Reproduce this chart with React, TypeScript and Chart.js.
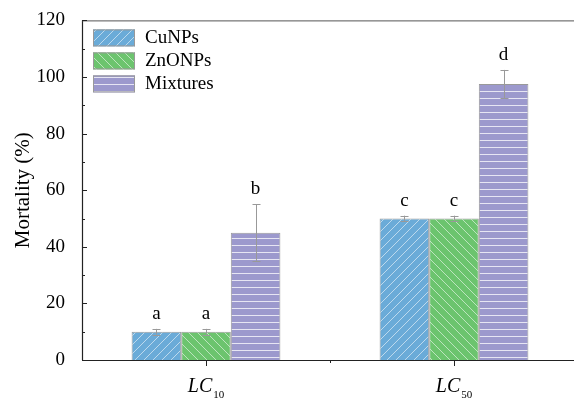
import { useEffect, useRef } from 'react';
import { Chart, registerables } from 'chart.js';

Chart.register(...registerables);

const categoryMain = ['LC', 'LC'];
const categorySub = ['10', '50'];
const categories = ['LC10', 'LC50'];
const seriesNames = ['CuNPs', 'ZnONPs', 'Mixtures'];
const cuValues = [10, 50];
const znValues = [10, 50];
const mixValues = [45, 97.5];
const cuErrors = [1, 1];
const znErrors = [1, 1];
const mixErrors = [10, 5];
const cuLetters = ['a', 'c'];
const znLetters = ['a', 'c'];
const mixLetters = ['b', 'd'];
const yMin = 0;
const yMax = 120;
const yStep = 20;

const SERIF = '"Liberation Serif", "Times New Roman", serif';

function makePattern(kind: string, bg: string, line: string): CanvasPattern | string {
  const size = kind === 'h' ? 7 : 9;
  const c = document.createElement('canvas');
  c.width = kind === 'h' ? 16 : size;
  c.height = size;
  const g = c.getContext('2d');
  if (!g) return bg;
  g.fillStyle = bg;
  g.fillRect(0, 0, c.width, c.height);
  g.strokeStyle = line;
  g.lineWidth = 1;
  g.beginPath();
  if (kind === 'h') {
    g.moveTo(0, 0.5);
    g.lineTo(c.width, 0.5);
  } else if (kind === '/') {
    g.moveTo(-1, size + 1);
    g.lineTo(size + 1, -1);
    g.moveTo(-1, 1);
    g.lineTo(1, -1);
    g.moveTo(size - 1, size + 1);
    g.lineTo(size + 1, size - 1);
  } else {
    g.moveTo(-1, -1);
    g.lineTo(size + 1, size + 1);
    g.moveTo(size - 1, -1);
    g.lineTo(size + 1, 1);
    g.moveTo(-1, size - 1);
    g.lineTo(1, size + 1);
  }
  g.stroke();
  const p = g.createPattern(c, 'repeat');
  return p || bg;
}

export default function App() {
  const ref = useRef<HTMLCanvasElement | null>(null);

  useEffect(() => {
    document.body.style.margin = '0';
    document.body.style.overflow = 'hidden';
    const canvas = ref.current;
    if (!canvas) return;

    const fills = [
      makePattern('/', '#6aabd8', 'rgba(255,255,255,0.55)'),
      makePattern('\\', '#6cc46e', 'rgba(255,255,255,0.55)'),
      makePattern('h', '#9c99cd', 'rgba(255,255,255,0.75)'),
    ];
    const values = [cuValues, znValues, mixValues];
    const errors = [cuErrors, znErrors, mixErrors];
    const letters = [cuLetters, znLetters, mixLetters];

    const decor = {
      id: 'decor',
      afterDraw(chart: any) {
        const ctx = chart.ctx;
        const area = chart.chartArea;
        const ys = chart.scales.y;
        const xs = chart.scales.x;
        ctx.save();

        // error bars and letters
        for (let d = 0; d < values.length; d++) {
          const meta = chart.getDatasetMeta(d);
          meta.data.forEach((el: any, i: number) => {
            const v = values[d][i];
            const e = errors[d][i];
            const yt = ys.getPixelForValue(v + e);
            const yb = ys.getPixelForValue(v - e);
            const x = Math.round(el.x) + 0.5;
            ctx.strokeStyle = '#999';
            ctx.lineWidth = 1;
            ctx.beginPath();
            ctx.moveTo(x, yt);
            ctx.lineTo(x, yb);
            ctx.moveTo(x - 4, Math.round(yt) + 0.5);
            ctx.lineTo(x + 4, Math.round(yt) + 0.5);
            ctx.moveTo(x - 4, Math.round(yb) + 0.5);
            ctx.lineTo(x + 4, Math.round(yb) + 0.5);
            ctx.stroke();
            ctx.fillStyle = '#000';
            ctx.font = '19px ' + SERIF;
            ctx.textAlign = 'center';
            ctx.textBaseline = 'alphabetic';
            ctx.fillText(letters[d][i], el.x, yt - 10);
          });
        }

        // frame lines
        ctx.strokeStyle = '#222';
        ctx.lineWidth = 1.2;
        ctx.beginPath();
        ctx.moveTo(area.left + 0.5, area.top);
        ctx.lineTo(area.left + 0.5, area.bottom);
        ctx.moveTo(area.left, area.bottom + 0.5);
        ctx.lineTo(area.right, area.bottom + 0.5);
        ctx.stroke();
        ctx.strokeStyle = '#555';
        ctx.lineWidth = 1;
        ctx.beginPath();
        ctx.moveTo(area.left, area.top + 0.5);
        ctx.lineTo(area.right, area.top + 0.5);
        ctx.stroke();

        // y ticks (inward)
        ctx.strokeStyle = '#222';
        ctx.lineWidth = 1;
        ctx.beginPath();
        for (let v = yMin; v <= yMax; v += yStep / 2) {
          const y = Math.round(ys.getPixelForValue(v)) + 0.5;
          const len = (v % yStep === 0) ? 5 : 3;
          ctx.moveTo(area.left, y);
          ctx.lineTo(area.left + len, y);
        }
        ctx.stroke();

        // x ticks (outward) and labels
        ctx.beginPath();
        for (let i = 0; i < categories.length; i++) {
          const x = Math.round(xs.getPixelForValue(i)) + 0.5;
          ctx.moveTo(x, area.bottom);
          ctx.lineTo(x, area.bottom + 6);
          if (i < categories.length - 1) {
            const xm = Math.round((xs.getPixelForValue(i) + xs.getPixelForValue(i + 1)) / 2) + 0.5;
            ctx.moveTo(xm, area.bottom);
            ctx.lineTo(xm, area.bottom + 3);
          }
        }
        ctx.stroke();

        ctx.fillStyle = '#000';
        ctx.textBaseline = 'alphabetic';
        for (let i = 0; i < categories.length; i++) {
          const cx = xs.getPixelForValue(i);
          ctx.font = 'italic 20px ' + SERIF;
          const w1 = ctx.measureText(categoryMain[i]).width;
          ctx.font = '11px ' + SERIF;
          const w2 = ctx.measureText(categorySub[i]).width;
          const x0 = cx - (w1 + w2 + 1) / 2;
          ctx.font = 'italic 20px ' + SERIF;
          ctx.textAlign = 'left';
          ctx.fillText(categoryMain[i], x0, area.bottom + 32);
          ctx.font = '11px ' + SERIF;
          ctx.fillText(categorySub[i], x0 + w1 + 1, area.bottom + 38);
        }

        // legend
        const lx = area.left + 11;
        for (let d = 0; d < seriesNames.length; d++) {
          const ty = area.top + 9 + d * 23;
          ctx.fillStyle = fills[d] as any;
          ctx.fillRect(lx, ty, 42, 17);
          ctx.strokeStyle = '#999';
          ctx.lineWidth = 1;
          ctx.strokeRect(lx + 0.5, ty + 0.5, 41, 16);
          ctx.fillStyle = '#000';
          ctx.font = '19px ' + SERIF;
          ctx.textAlign = 'left';
          ctx.textBaseline = 'middle';
          ctx.fillText(seriesNames[d], lx + 52, ty + 9);
        }
        ctx.restore();
      },
    };

    const chart = new Chart(canvas, {
      type: 'bar',
      data: {
        labels: categories,
        datasets: seriesNames.map((name, d) => ({
          label: name,
          data: values[d],
          backgroundColor: fills[d] as any,
          borderColor: '#999',
          borderWidth: 1,
          categoryPercentage: 0.6,
          barPercentage: 1.0,
        })),
      },
      options: {
        responsive: false,
        animation: false,
        devicePixelRatio: 1,
        layout: { padding: { top: 20, right: 2, left: 0, bottom: 0 } },
        plugins: {
          legend: { display: false },
          tooltip: { enabled: false },
        },
        scales: {
          x: {
            offset: true,
            grid: { display: false },
            border: { display: false },
            ticks: { display: false },
            afterFit: (s: any) => { s.height = 39; },
          },
          y: {
            min: yMin,
            max: yMax,
            grid: { display: false },
            border: { display: false },
            ticks: {
              stepSize: yStep,
              padding: 9,
              color: '#000',
              font: { family: SERIF, size: 19 },
            },
            title: {
              display: true,
              text: 'Mortality (%)',
              color: '#000',
              font: { family: SERIF, size: 21 },
              padding: { top: 11, bottom: 0 },
            },
            afterFit: (s: any) => { s.width = 82; },
          },
        },
      },
      plugins: [decor],
    });

    return () => chart.destroy();
  }, []);

  return (
    <div style={{ width: 574, height: 399, overflow: 'hidden' }}>
      <canvas ref={ref} width={580} height={399} style={{ display: 'block' }} />
    </div>
  );
}
